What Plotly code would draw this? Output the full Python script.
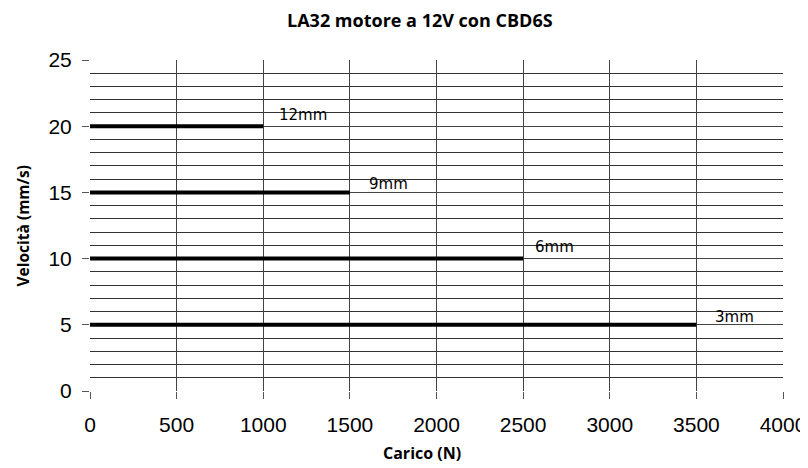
import plotly.graph_objects as go

# Data
labels = ["12mm", "9mm", "6mm", "3mm"]
speeds = [20, 15, 10, 5]
max_loads = [1000, 1500, 2500, 3500]
label_x = [1079, 1599, 2557, 3596]
label_y = [20.85, 15.6, 10.84, 5.59]

fig = go.Figure()
for lab, v, m in zip(labels, speeds, max_loads):
    fig.add_trace(go.Scatter(x=[0, m], y=[v, v], mode="lines",
                             line=dict(color="black", width=4), name=lab,
                             showlegend=False))

for lab, lx, ly in zip(labels, label_x, label_y):
    fig.add_annotation(x=lx, y=ly, text=lab, showarrow=False,
                       xanchor="left", yanchor="middle",
                       font=dict(family="DejaVu Sans", size=15, color="black"))

# titles as annotations for precise placement
fig.add_annotation(xref="paper", yref="paper", x=0.476, y=1.121,
                   text="<b>LA32 motore a 12V con CBD6S</b>", showarrow=False,
                   xanchor="center", yanchor="middle",
                   font=dict(family="Open Sans", size=18, color="black"))
fig.add_annotation(xref="paper", yref="paper", x=0.479, y=-0.187,
                   text="<b>Carico (N)</b>", showarrow=False,
                   xanchor="center", yanchor="middle",
                   font=dict(family="Open Sans", size=16, color="black"))
fig.add_annotation(xref="paper", yref="paper", x=-0.0967, y=0.5,
                   text="<b>Velocità (mm/s)</b>", showarrow=False, textangle=-90,
                   xanchor="center", yanchor="middle",
                   font=dict(family="Open Sans", size=15.5, color="black"))

fig.update_layout(
    width=800, height=460,
    margin=dict(l=82, r=25, t=52, b=77),
    paper_bgcolor="white", plot_bgcolor="white",
    showlegend=False,
    xaxis=dict(range=[0, 4000], dtick=500, tick0=0, automargin=False,
               showgrid=True, gridcolor="#444", gridwidth=1,
               ticks="outside", ticklen=7, tickcolor="#555",
               ticklabelstandoff=8,
               showline=False, zeroline=False,
               tickfont=dict(family="Liberation Sans", size=21, color="black")),
    yaxis=dict(range=[0, 25], dtick=5, tick0=0, automargin=False,
               showgrid=True, gridcolor="#444", gridwidth=1,
               minor=dict(dtick=1, showgrid=True, gridcolor="#333", gridwidth=1),
               ticks="outside", ticklen=7, tickcolor="#555",
               ticklabelstandoff=6,
               showline=False, zeroline=False,
               tickfont=dict(family="Liberation Sans", size=21, color="black")),
)

fig.write_html("out.html")
